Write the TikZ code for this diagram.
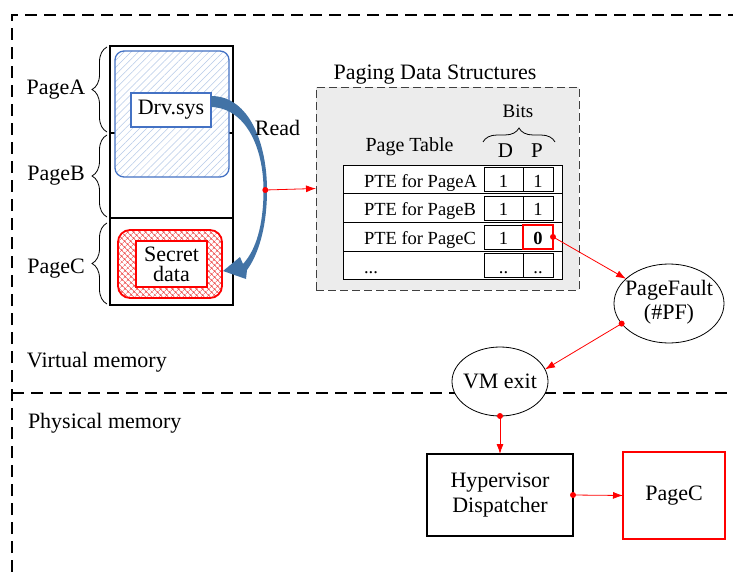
\documentclass[tikz,border=0pt]{standalone}
\usepackage{fontspec}
\setmainfont{Liberation Serif}
\usetikzlibrary{arrows.meta,patterns.meta,decorations.pathreplacing,shapes.geometric}
\definecolor{boxblue}{RGB}{68,114,196}
\definecolor{hatchblue}{RGB}{182,202,232}
\definecolor{arrowblue}{RGB}{66,115,166}
\definecolor{panelgray}{RGB}{236,236,236}
\definecolor{hatchred}{RGB}{238,70,70}

\begin{document}
\begin{tikzpicture}[x=1pt,y=-1pt,
  every node/.style={inner sep=0pt, outer sep=0pt, font=\fontsize{22}{24}\selectfont},
  framedash/.style={line width=1.6pt, dash pattern=on 12pt off 7pt},
  panel/.style={draw=black!75, fill=panelgray, line width=0.8pt, dash pattern=on 8pt off 4pt},
  curly/.style={decorate, decoration={brace, amplitude=#1}, line width=0.8pt},
  redarrow/.style={red, line width=0.8pt, -{Latex[length=10pt,width=7pt]}},
  reddot/.style={circle, fill=red, minimum size=6pt},
  rowbox/.style={draw, line width=1pt, fill=white, minimum width=219pt, minimum height=28.75pt},
  cellbox/.style={draw, line width=0.8pt, minimum height=24pt},
  dcell/.style={cellbox, minimum width=39pt},
  pcell/.style={cellbox, minimum width=30pt},
  tabtext/.style={font=\fontsize{18.5}{20}\selectfont},
  bubble/.style={ellipse, draw, line width=0.8pt, fill=white},
  plainbox/.style={draw, line width=1.1pt, fill=white}
]
\useasboundingbox (0,0) rectangle (733,572);

% frames of the two memory spaces
\draw[framedash] (12,572) -- (12,15) -- (733,15);
\draw[framedash] (12,393) -- (733,393);
\node[anchor=base west] (vmlabel) at (27,367) {Virtual memory};
\node[anchor=base west] (pmlabel) at (28,428) {Physical memory};

% virtual memory column with its three pages
\node[draw, line width=1.4pt, minimum width=123pt, minimum height=259pt] (mem) at (171.5,175.5) {};
\draw[line width=1.4pt] (110,133) -- (233,133);
\draw[line width=1.4pt] (110,218) -- (233,218);

\node[draw=boxblue, line width=1.3pt, rounded corners=9pt, preaction={fill=white},
      pattern={Lines[angle=45,distance=5pt,line width=0.5pt]}, pattern color=hatchblue,
      minimum width=114pt, minimum height=126pt] (codebox) at (172,114) {};
\node[draw=boxblue, line width=1.3pt, fill=white, minimum width=80pt, minimum height=34pt]
      (drv) at (171,110) {Drv.sys};

\node[draw=red, line width=1.8pt, rounded corners=12pt, preaction={fill=white},
      pattern={Hatch[angle=45,distance=4pt,line width=0.6pt]}, pattern color=hatchred,
      minimum width=104pt, minimum height=68pt] (redbox) at (170,264) {};
\node[draw=red, line width=1.6pt, fill=white, minimum width=71pt, minimum height=46pt,
      align=center, font=\fontsize{22}{20}\selectfont] (secret) at (171.5,264) {Secret\\data};

% page braces and names
\draw[curly=15pt] (107,132) -- (107,47);
\draw[curly=15pt] (107,217) -- (107,135);
\draw[curly=15pt] (107,304) -- (107,223);
\node (pa) at (56,90) {PageA};
\node (pb) at (56,176) {PageB};
\node (pc) at (56,269) {PageC};

% curved "Read" arrow from the driver to the secret data
\fill[arrowblue] (211,96) .. controls (250,96) and (267,145) .. (267,190)
  .. controls (267,228) and (258,255) .. (247,270)
  -- (246,279) -- (223,271) -- (240,257) -- (243,264)
  .. controls (256,250) and (263.5,225) .. (263.5,190)
  .. controls (263.5,148) and (246,108) .. (211,107) -- cycle;
\node (readlbl) at (277.5,128) {Read};
\coordinate (rd) at (265.3,190);

% paging data structures
\node[panel, minimum width=263pt, minimum height=203pt] (pds) at (447.5,188.5) {};
\node[anchor=base] (pdstitle) at (435,80) {Paging Data Structures};
\node[anchor=base, font=\fontsize{19}{20}\selectfont] (bits) at (518,118) {Bits};
\draw[curly=14pt] (483,142) -- (555,142);
\node[anchor=base, font=\fontsize{20}{22}\selectfont] (ptlabel) at (409.5,152) {Page Table};
\node[anchor=base, font=\fontsize{21}{22}\selectfont] (dlabel) at (505.5,158) {D};
\node[anchor=base, font=\fontsize{21}{22}\selectfont] (plabel) at (537,158) {P};

\node[rowbox] (rowA) at (452.5,179.4) {};
\node[rowbox] (rowB) at (452.5,208.1) {};
\node[rowbox] (rowC) at (452.5,236.9) {};
\node[rowbox] (rowD) at (452.5,265.6) {};

\node[tabtext, anchor=base west] (tA) at (364,187) {PTE for PageA};
\node[tabtext, anchor=base west] (tB) at (364,215.75) {PTE for PageB};
\node[tabtext, anchor=base west] (tC) at (364,244) {PTE for PageC};
\node[tabtext, anchor=base west] (tD) at (364,273) {...};

\node[dcell] (dA) at (503.5,179.4) {};
\node[pcell] (pA) at (538,179.4) {};
\node[dcell] (dB) at (503.5,208.1) {};
\node[pcell] (pB) at (538,208.1) {};
\node[dcell] (dC) at (503.5,236.9) {};
\node[pcell, draw=red, line width=1.3pt] (pC) at (538,236.9) {};
\node[dcell] (dD) at (503.5,265.6) {};
\node[pcell] (pD) at (538,265.6) {};

\node[tabtext, anchor=base] (vdA) at (503.5,187) {1};
\node[tabtext, anchor=base] (vpA) at (538,187) {1};
\node[tabtext, anchor=base] (vdB) at (503.5,215.75) {1};
\node[tabtext, anchor=base] (vpB) at (538,215.75) {1};
\node[tabtext, anchor=base] (vdC) at (503.5,244) {1};
\node[tabtext, anchor=base] (vpC) at (538,244) {\textbf{0}};
\node[tabtext, anchor=base] (vdD) at (503.5,273) {..};
\node[tabtext, anchor=base] (vpD) at (538,273) {..};

% fault handling chain
\node[bubble, minimum width=110pt, minimum height=79pt] (pf) at (669,303.5) {};
\node[align=center, font=\fontsize{22}{24}\selectfont] (pftext) at (669,302) {PageFault\\(\#PF)};
\node[bubble, minimum width=96pt, minimum height=69pt] (vm) at (500,381.5) {};
\node (vmtext) at (500,381.5) {VM exit};
\node[plainbox, minimum width=146pt, minimum height=82pt, align=center,
      font=\fontsize{22}{25}\selectfont] (hyp) at (500,495) {Hypervisor\\Dispatcher};
\node[draw=red, line width=1.3pt, fill=white, minimum width=102pt, minimum height=87pt]
      (pagec) at (674,495.5) {PageC};

% red connectors
\draw[redarrow] (rd) -- (pds.west);
\node[reddot] (rddot) at (rd) {};
\draw[redarrow] (pC.east) -- (pf);
\node[reddot] (pcdot) at (pC.east) {};
\draw[redarrow] (pf.203) -- (vm.15);
\node[reddot] (pfdot) at (pf.203) {};
\draw[redarrow] (vm.south) -- (hyp.north);
\node[reddot] (vmdot) at (vm.south) {};
\draw[redarrow] (hyp.east) -- (pagec.west);
\node[reddot] (hypdot) at (hyp.east) {};
\end{tikzpicture}
\end{document}
